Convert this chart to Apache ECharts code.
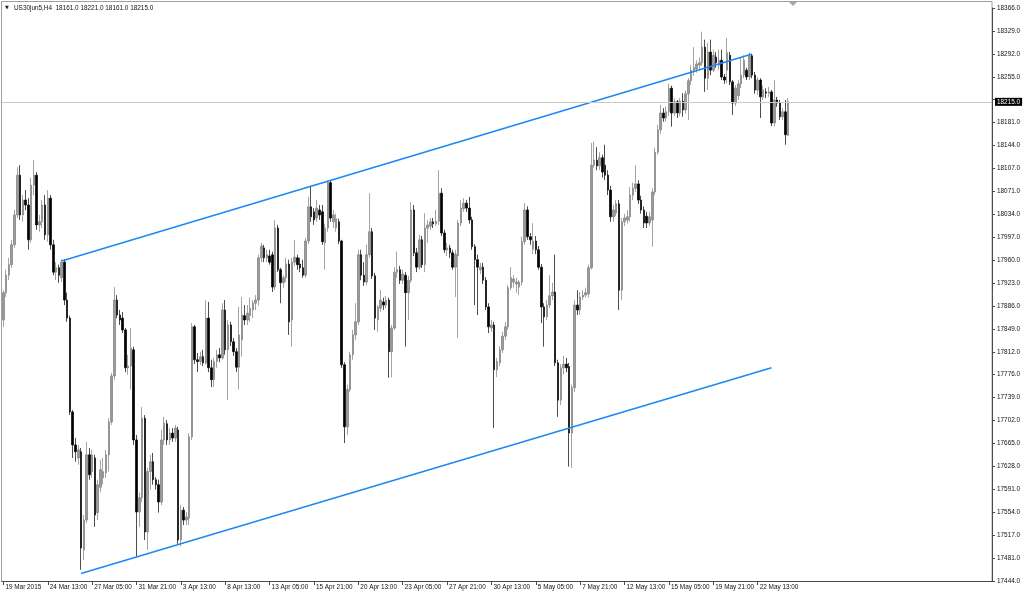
<!DOCTYPE html>
<html><head><meta charset="utf-8">
<script src="https://cdn.jsdelivr.net/npm/echarts@6/dist/echarts.min.js"></script>
<style>html,body{margin:0;padding:0;background:#fff}#c{width:1024px;height:597px}</style>
</head><body><div id="c"></div>
<script>
// ---- data ----
const symbolTitle = 'US30jun5,H4';
const ohlcHeader = [18161.0, 18221.0, 18161.0, 18215.0];
const timeLabels = ['19 Mar 2015','24 Mar 13:00','27 Mar 05:00','31 Mar 21:00','3 Apr 13:00','8 Apr 13:00',
  '13 Apr 05:00','15 Apr 21:00','20 Apr 13:00','23 Apr 05:00','27 Apr 21:00','30 Apr 13:00',
  '5 May 05:00','7 May 21:00','12 May 13:00','15 May 05:00','19 May 21:00','22 May 13:00'];
const labelEvery = 16;      // bars between time labels
const slotCount = 357;      // bar slots across the visible width (incl. right shift space)
const yTickLabels = ['17444.0','17481.0','17517.0','17554.0','17591.0','17628.0','17665.0','17702.0',
  '17739.0','17776.0','17812.0','17849.0','17886.0','17923.0','17960.0','17997.0','18034.0','18071.0',
  '18107.0','18144.0','18181.0','','18255.0','18292.0','18329.0','18366.0'];
const yMin = 17444, yMax = 18366;
const bidPrice = 18215;

const open = [
17864,17908,17936,17953,17985,18033,18097,18033,18057,18049,
17993,18081,18097,18017,18022,18049,18001,18060,17985,17941,
17948,17932,17957,17896,17867,17716,17663,17642,17652,17494,
17542,17647,17620,17642,17554,17595,17610,17618,17647,17700,
17774,17896,17872,17867,17848,17787,17790,17816,17671,17555,
17578,17706,17523,17620,17636,17607,17599,17571,17671,17697,
17671,17682,17674,17687,17510,17558,17542,17545,17676,17853,
17800,17797,17805,17795,17867,17787,17768,17797,17808,17803,
17880,17816,17856,17829,17813,17788,17832,17871,17864,17871,
17880,17891,17896,17964,17980,17964,17967,17969,17917,18012,
17945,17924,17932,17954,17864,17957,17964,17954,17948,17936,
17991,18046,18038,18028,18041,18038,17988,18012,18085,18022,
18012,18022,17991,17792,17692,17752,17808,17840,17861,17969,
17936,17925,17969,18006,17935,17864,17883,17893,17888,17896,
17813,17851,17941,17945,17928,17936,17908,17928,18041,17972,
17949,17993,17953,18012,18015,18022,18019,18023,18068,18004,
17977,17980,17972,17949,17967,18020,18043,18052,18044,18025,
17982,17961,17945,17949,17928,17885,17851,17856,17784,17795,
17816,17838,17853,17916,17925,17922,17917,17925,17990,18041,
17998,17978,17991,17977,17949,17885,17869,17888,17903,17909,
17795,17735,17787,17793,17789,17682,17755,17888,17880,17901,
17904,17906,17948,18113,18121,18112,18125,18113,18097,18073,
18030,18036,18051,17912,18022,18025,18030,18065,18076,18083,
18057,18041,18031,18020,18025,18070,18134,18170,18197,18189,
18199,18237,18197,18215,18197,18216,18202,18228,18249,18266,
18268,18274,18278,18303,18253,18295,18266,18287,18274,18282,
18255,18266,18290,18247,18213,18225,18244,18258,18266,18255,
18289,18258,18234,18250,18223,18231,18229,18231,18181,18218,
18213,18191,18199,18161];
const close = [
17908,17936,17953,17985,18033,18097,18033,18057,18049,17993,
18081,18097,18017,18022,18049,18001,18060,17985,17941,17948,
17936,17957,17896,17867,17716,17663,17652,17655,17497,17542,
17647,17615,17647,17550,17599,17623,17620,17647,17700,17774,
17896,17872,17864,17848,17787,17790,17819,17671,17555,17578,
17706,17523,17620,17636,17607,17599,17571,17671,17698,17671,
17682,17674,17690,17510,17558,17542,17547,17676,17853,17800,
17797,17805,17795,17867,17787,17768,17797,17808,17803,17880,
17816,17856,17829,17813,17788,17840,17872,17864,17875,17883,
17891,17896,17964,17983,17964,17969,17957,17917,18012,17945,
17924,17932,17954,17861,17957,17965,17953,17948,17936,17991,
18046,18030,18025,18044,18033,17990,18012,18085,18028,18033,
18027,17991,17792,17692,17752,17808,17840,17861,17969,17936,
17925,17969,18006,17935,17867,17885,17896,17888,17896,17813,
17851,17941,17945,17928,17938,17908,17928,18041,17972,17949,
17993,17953,18012,18017,18022,18019,18023,18068,18004,17977,
17980,17972,17949,17970,18020,18044,18052,18044,18025,17982,
17961,17949,17949,17928,17885,17853,17856,17784,17797,17816,
17838,17853,17916,17932,17930,17925,17925,17990,18041,17998,
17993,17991,17977,17949,17885,17869,17888,17903,17909,17795,
17735,17787,17793,17787,17682,17755,17888,17880,17901,17904,
17908,17948,18113,18121,18112,18125,18102,18097,18073,18030,
18041,18051,17912,18022,18028,18030,18065,18076,18083,18057,
18041,18020,18020,18030,18070,18134,18170,18197,18189,18199,
18237,18197,18215,18197,18216,18202,18228,18249,18266,18270,
18276,18278,18303,18253,18295,18266,18290,18278,18282,18255,
18250,18294,18247,18213,18237,18244,18258,18282,18255,18289,
18258,18234,18250,18223,18234,18229,18231,18181,18218,18213,
18191,18199,18162,18215];
const low = [
17853,17901,17928,17948,17980,18028,18025,18022,18041,17977,
17988,18065,18009,18006,18012,17993,17990,17977,17936,17928,
17924,17925,17888,17861,17711,17642,17636,17631,17462,17478,
17537,17607,17610,17531,17542,17587,17599,17610,17620,17695,
17768,17867,17856,17843,17780,17776,17752,17663,17484,17531,
17571,17510,17494,17591,17599,17591,17554,17566,17663,17663,
17663,17668,17668,17504,17500,17534,17534,17534,17671,17793,
17780,17792,17790,17792,17780,17756,17756,17787,17796,17800,
17808,17735,17822,17806,17780,17752,17805,17856,17856,17861,
17867,17880,17887,17957,17957,17957,17953,17909,17912,17941,
17891,17916,17925,17840,17821,17951,17945,17941,17932,17932,
17986,18022,18017,18022,18025,17985,17945,18006,18022,18012,
18006,17986,17787,17666,17679,17748,17800,17832,17856,17928,
17919,17920,17964,17930,17848,17845,17877,17880,17883,17771,
17772,17848,17932,17922,17922,17821,17864,17924,17967,17941,
17945,17948,17941,17988,18009,18012,18015,18017,17999,17972,
17967,17964,17945,17901,17835,18015,18038,18038,18019,17977,
17888,17872,17938,17922,17880,17843,17845,17690,17772,17790,
17811,17832,17848,17912,17916,17908,17904,17919,17985,17993,
17985,17970,17970,17945,17859,17821,17864,17883,17896,17790,
17708,17727,17777,17780,17628,17626,17748,17872,17872,17896,
17900,17900,17945,18109,18105,18105,18093,18089,18065,18022,
18022,18031,17880,17896,18015,18019,18022,18057,18070,18051,
18035,18012,18012,18015,17982,18065,18130,18163,18183,18183,
18192,18175,18192,18189,18192,18191,18196,18186,18242,18257,
18262,18266,18273,18231,18234,18258,18263,18270,18266,18250,
18244,18245,18242,18194,18208,18218,18237,18253,18250,18250,
18253,18228,18226,18189,18218,18221,18223,18176,18176,18207,
18186,18186,18146,18161];
const high = [
17912,17945,17964,17993,18041,18110,18113,18065,18073,18060,
18093,18121,18102,18033,18057,18065,18073,18065,17993,17957,
17953,17962,17962,17908,17871,17719,17674,17663,17658,17550,
17668,17658,17655,17647,17607,17639,17642,17655,17706,17779,
17917,17904,17880,17877,17851,17808,17851,17821,17679,17586,
17724,17711,17626,17647,17650,17611,17607,17687,17708,17703,
17690,17690,17695,17692,17566,17563,17555,17682,17859,17856,
17811,17813,17816,17896,17893,17800,17803,17816,17819,17891,
17896,17864,17861,17835,17819,17885,17901,17888,17888,17900,
17896,17904,17969,17988,17985,17977,17977,17974,18025,18017,
17948,17936,17964,17961,17964,17993,17969,17964,17961,17996,
18062,18078,18044,18057,18049,18049,18019,18088,18088,18041,
18035,18027,17993,17796,17760,17813,17848,17891,17977,17977,
17957,17985,18068,18012,17940,17888,17912,17900,17903,17900,
17856,17949,17974,17951,17945,17941,17935,18054,18049,17980,
18001,17999,18036,18025,18028,18028,18041,18105,18076,18009,
17988,17985,17977,17977,18025,18057,18060,18057,18062,18030,
17986,17969,17956,17956,17933,17891,17864,17861,17803,17822,
17845,17861,17920,17949,17936,17932,17928,17998,18052,18047,
18004,18020,17999,17983,17954,17891,17896,17936,17924,17969,
17800,17793,17806,17803,17795,17760,17896,17912,17909,17912,
17916,17953,18149,18151,18142,18134,18130,18146,18105,18080,
18049,18057,18057,18028,18035,18041,18078,18085,18113,18089,
18064,18047,18038,18038,18076,18141,18178,18210,18205,18208,
18244,18241,18221,18218,18221,18229,18233,18253,18274,18303,
18282,18286,18328,18315,18310,18315,18299,18295,18299,18299,
18260,18318,18295,18250,18242,18250,18287,18290,18270,18294,
18292,18263,18255,18253,18241,18237,18239,18234,18250,18223,
18218,18205,18218,18221];
// trend channel anchors: [bar index, price]
const channelUpper = [[21, 17959], [270, 18292]];
const channelLower = [[28, 17456], [277, 17787]];
// ---------------------------------------

const lens = [open.length, close.length, low.length, high.length];
if (new Set(lens).size !== 1) throw new Error('length mismatch ' + lens.join(','));

const categories = Array.from({length: slotCount}, (_, i) => String(i));
const candles = open.map((o, i) => [o, close[i], low[i], high[i]]);
const yStep = (yMax - yMin) / (yTickLabels.length - 1);
const FONT = 'Liberation Sans';
const txt = '#111';
const showLabel = (i) => i % labelEvery === 0 && i / labelEvery < timeLabels.length;

const chart = echarts.init(document.getElementById('c'), null, {renderer: 'canvas'});
chart.setOption({
  animation: false,
  backgroundColor: '#ffffff',
  grid: {left: 2, right: 32, top: 8, bottom: 16, containLabel: false},
  xAxis: {
    type: 'category', data: categories, boundaryGap: true,
    axisLine: {show: true, lineStyle: {color: '#4a4a4a', width: 1}},
    axisTick: {show: true, alignWithLabel: true, length: 4, interval: showLabel, lineStyle: {color: '#4a4a4a'}},
    axisLabel: {
      interval: showLabel, align: 'left', margin: 3, padding: [0, 0, 0, 2],
      fontSize: 6.4, fontFamily: FONT, color: txt,
      formatter: (v) => timeLabels[Number(v) / labelEvery] || ''
    },
    splitLine: {show: false}
  },
  yAxis: {
    type: 'value', position: 'right', min: yMin, max: yMax, interval: yStep,
    axisLine: {show: true, lineStyle: {color: '#4a4a4a', width: 1}},
    axisTick: {show: true, length: 3, lineStyle: {color: '#4a4a4a'}},
    axisLabel: {
      margin: 5, fontSize: 6.4, fontFamily: FONT, color: txt, align: 'left',
      formatter: (v) => { const k = Math.round((v - yMin) / yStep); return yTickLabels[k] ?? ''; }
    },
    splitLine: {show: false}
  },
  series: [{
    type: 'candlestick',
    data: candles,
    barWidth: 2,
    itemStyle: {color: '#9a9a9a', color0: '#000000', borderColor: '#7c7c7c', borderColor0: '#000000', borderWidth: 0.7},
    markLine: {
      silent: true, symbol: ['none', 'none'], animation: false,
      data: [
        [{coord: channelUpper[0], lineStyle: {color: '#1e88f0', width: 1.6, type: 'solid'}, label: {show: false}},
         {coord: channelUpper[1]}],
        [{coord: channelLower[0], lineStyle: {color: '#1e88f0', width: 1.6, type: 'solid'}, label: {show: false}},
         {coord: channelLower[1]}],
        {yAxis: bidPrice, lineStyle: {color: '#c8c8c8', width: 1, type: 'solid'},
         label: {show: true, position: 'end', distance: 3, formatter: bidPrice.toFixed(1),
                 backgroundColor: '#000', color: '#fff', fontSize: 6.4, fontFamily: FONT, padding: [1, 2, 1, 2]}}
      ]
    }
  }],
  graphic: [
    {type: 'rect', silent: true, z: -1, shape: {x: 1.5, y: 1.5, width: 990.5, height: 580}, style: {fill: 'none', stroke: '#a0a0a0', lineWidth: 1}},
    {type: 'polygon', silent: true, shape: {points: [[789, 2], [797, 2], [793, 6]]}, style: {fill: '#a8a8a8'}},
    {type: 'text', silent: true, style: {x: 5, y: 8, text: '▼', fontSize: 5, fontFamily: 'DejaVu Sans', fill: '#222', verticalAlign: 'middle'}},
    {type: 'text', silent: true, style: {x: 14, y: 8, verticalAlign: 'middle', fontSize: 6.4, fontFamily: FONT, fill: txt,
      text: symbolTitle + '  ' + ohlcHeader.map(v => v.toFixed(1)).join(' ')}}
  ]
});
</script></body></html>
